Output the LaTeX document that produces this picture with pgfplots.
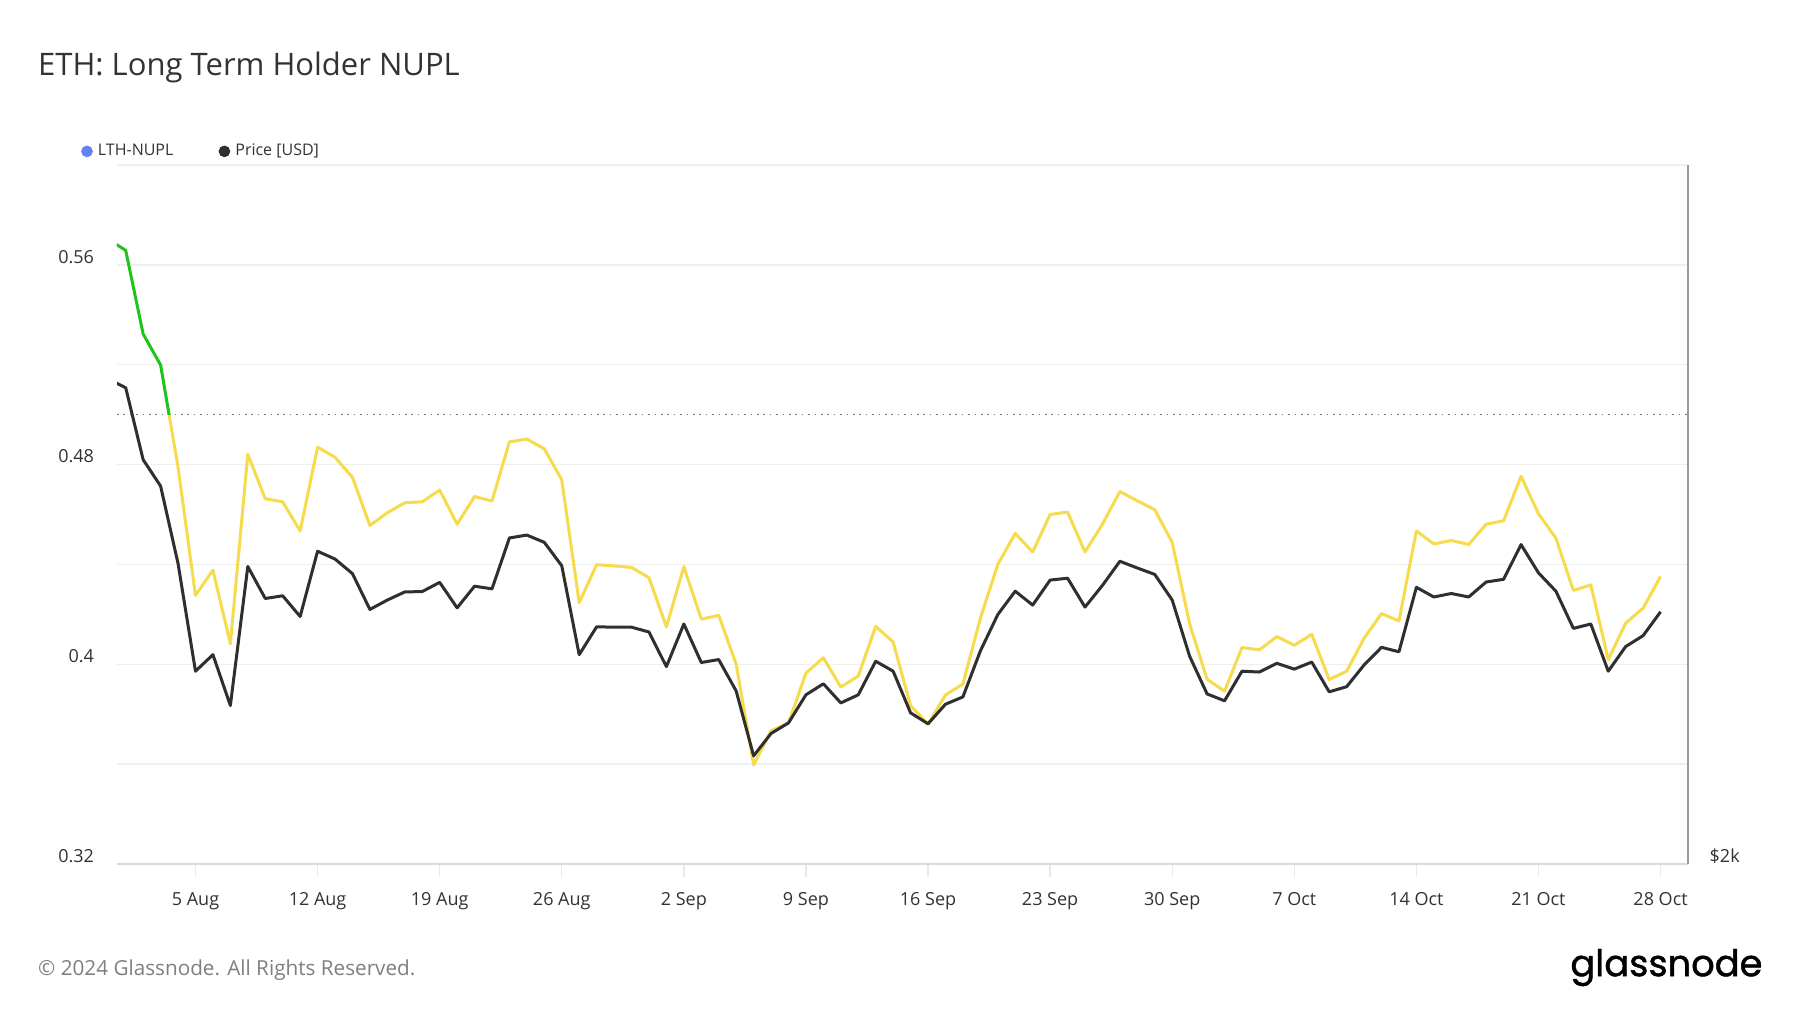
\documentclass[border=0pt]{standalone}
\usepackage{fontspec}
\setmainfont{Open Sans}
\newfontfamily\logofont{Poppins}[FakeBold=1.2]
\usepackage{pgfplots}
\pgfplotsset{compat=1.18}
\usepackage{pgfplotstable}

\definecolor{nuplyellow}{HTML}{F6DB4C}
\definecolor{nuplgreen}{HTML}{1FC41B}
\definecolor{pricecol}{HTML}{2F2F2F}
\definecolor{gridgray}{HTML}{EFEFEF}
\definecolor{bottomgray}{HTML}{DADADA}
\definecolor{axisgray}{HTML}{9A9A9A}
\definecolor{tickgray}{HTML}{EAEAEA}
\definecolor{textgray}{HTML}{333333}
\definecolor{footgray}{HTML}{7F7F7F}
\definecolor{legblue}{HTML}{6381F5}
\definecolor{dotgray}{HTML}{777777}

\pgfplotstableread{
d nupl price
-1 0.5702 3235
0 0.5658 3207
1 0.5323 2986
2 0.5199 2909
3 0.4790 2694
4 0.4276 2421
5 0.4377 2461
6 0.4082 2340
7 0.4841 2686
8 0.4663 2602
9 0.4651 2609
10 0.4534 2556
11 0.4870 2727
12 0.4829 2706
13 0.4749 2667
14 0.4556 2574
15 0.4607 2598
16 0.4647 2619
17 0.4651 2620
18 0.4698 2644
19 0.4561 2578
20 0.4672 2634
21 0.4654 2627
22 0.4891 2763
23 0.4902 2771
24 0.4863 2751
25 0.4739 2688
26 0.4247 2461
27 0.4399 2530
28 0.4394 2529
29 0.4388 2529
30 0.4347 2517
31 0.4150 2432
32 0.4391 2537
33 0.4181 2442
34 0.4196 2449
35 0.4001 2374
36 0.3597 2226
37 0.3734 2276
38 0.3765 2300
39 0.3965 2365
40 0.4026 2391
41 0.3909 2346
42 0.3953 2365
43 0.4152 2445
44 0.4089 2421
45 0.3834 2323
46 0.3761 2298
47 0.3877 2343
48 0.3921 2360
49 0.4184 2470
50 0.4400 2561
51 0.4524 2621
52 0.4450 2585
53 0.4600 2650
54 0.4610 2655
55 0.4450 2580
56 0.4561 2636
57 0.4692 2700
58 0.4655 2682
59 0.4619 2665
60 0.4488 2598
61 0.4162 2457
62 0.3940 2367
63 0.3892 2351
64 0.4067 2421
65 0.4058 2419
66 0.4111 2440
67 0.4076 2426
68 0.4120 2443
69 0.3939 2372
70 0.3972 2384
71 0.4104 2436
72 0.4203 2479
73 0.4174 2468
74 0.4534 2631
75 0.4482 2606
76 0.4496 2615
77 0.4480 2606
78 0.4561 2645
79 0.4575 2652
80 0.4753 2745
81 0.4603 2669
82 0.4505 2621
83 0.4296 2526
84 0.4318 2537
85 0.4019 2421
86 0.4165 2481
87 0.4225 2508
88 0.4352 2568
}\data

\begin{document}
\begin{tikzpicture}
\path[fill=white] (0,0) rectangle (900pt,506.5pt);

\node[anchor=base west, inner sep=0pt, font=\fontsize{15.5}{18}\selectfont, text=textgray]
  at (18.9pt,468.5pt) {ETH: Long Term Holder NUPL};
\node[anchor=base west, inner sep=0pt, font=\fontsize{10.35}{12}\selectfont, text=footgray]
  at (18.9pt,18.9pt) {© 2024 Glassnode. All Rights Reserved.};
\node[anchor=base west, inner sep=0pt, font=\fontsize{18.4}{21}\logofont, text=black]
  at (785pt,18.4pt) {glassnode};

\begin{axis}[
  at={(58.5pt,74.5pt)}, anchor=south west,
  scale only axis, width=785.3pt, height=349.5pt,
  xmin=-0.5, xmax=89.55, ymin=0.32, ymax=0.60,
  axis line style={draw=none},
  ytick={0.32,0.36,0.40,0.44,0.48,0.52,0.56,0.60},
  yticklabels={0.32,,0.4,,0.48,,0.56,},
  ymajorgrids, grid style={gridgray, line width=0.7pt},
  ytick style={draw=none},
  yticklabel style={font=\fontsize{9}{10}\selectfont, text=textgray, anchor=east, xshift=-1.5pt, yshift=4pt},
  xtick={4,11,...,88},
  xticklabels={5 Aug,12 Aug,19 Aug,26 Aug,2 Sep,9 Sep,16 Sep,23 Sep,30 Sep,7 Oct,14 Oct,21 Oct,28 Oct},
  xtick pos=left, tick align=outside,
  xtick style={draw=tickgray, line width=0.7pt},
  major tick length=6.5pt,
  xticklabel style={font=\fontsize{9}{10}\selectfont, text=textgray, anchor=north, yshift=-4.2pt},
  legend style={at={(-0.02305,1.0195)}, anchor=west, draw=none, fill=none,
    font=\fontsize{8}{9}\selectfont, text=textgray, inner sep=0pt,
    nodes={inner sep=0pt},
    /tikz/every odd column/.style={column sep=2.6pt},
    /tikz/every even column/.style={column sep=22.6pt}},
  legend columns=2,
  legend cell align=left,
]
\addlegendimage{legend image code/.code={\fill[legblue] (2.7pt,0pt) circle (2.7pt);}}
\addlegendentry{LTH-NUPL}
\addlegendimage{legend image code/.code={\fill[pricecol] (2.7pt,0pt) circle (2.7pt);}}
\addlegendentry{Price [USD]}

\draw[bottomgray, line width=0.9pt] (rel axis cs:0,0) -- (rel axis cs:1,0);
\addplot[dotgray, line width=0.8pt, dash pattern=on 0.8pt off 2.4pt, forget plot]
  coordinates {(-0.5,0.5) (89.55,0.5)};
\begin{scope}
\clip (axis cs:-2,0.2) rectangle (axis cs:92,0.5);
\addplot[nuplyellow, line width=1.5pt, line join=round, forget plot]
  table[x=d, y=nupl]{\data};
\end{scope}
\begin{scope}
\clip (axis cs:-2,0.5) rectangle (axis cs:92,0.7);
\addplot[nuplgreen, line width=1.5pt, line join=round, forget plot]
  table[x=d, y=nupl]{\data};
\end{scope}
\end{axis}

\begin{axis}[
  at={(58.5pt,74.5pt)}, anchor=south west,
  scale only axis, width=785.3pt, height=349.5pt,
  xmin=-0.5, xmax=89.55,
  ymode=log, ymin=2000, ymax=4000,
  axis x line=none,
  axis y line*=right,
  y axis line style={draw=axisgray, line width=0.9pt, -},
  ytick={2000}, yticklabels={\$2k},
  ytick style={draw=none},
  yminorticks=false,
  yticklabel style={font=\fontsize{9}{10}\selectfont, text=textgray, anchor=west, xshift=7.5pt, yshift=4pt},
]
\addplot[pricecol, line width=1.5pt, line join=round] table[x=d, y=price]{\data};
\end{axis}
\end{tikzpicture}
\end{document}
